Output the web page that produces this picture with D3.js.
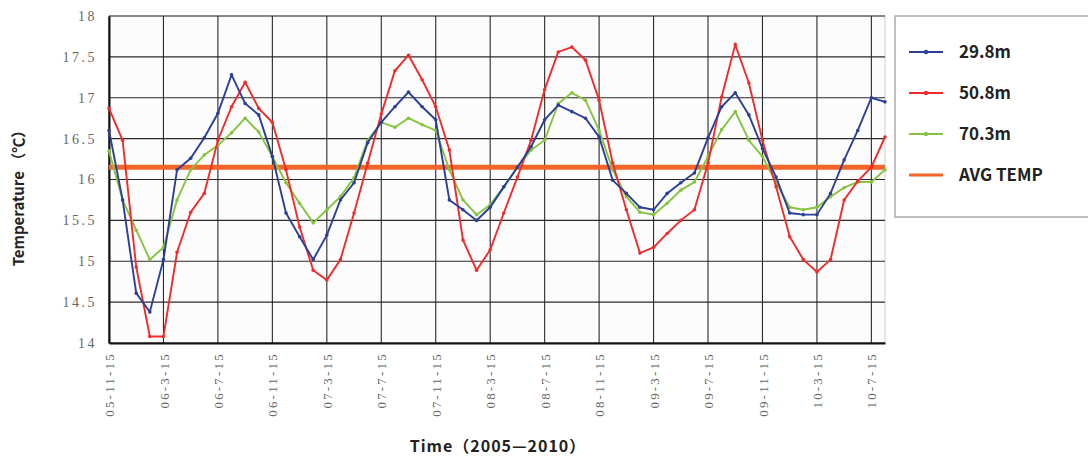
<!DOCTYPE html>
<html>
<head>
<meta charset="utf-8">
<script src="https://cdn.jsdelivr.net/npm/d3@7"></script>
<style>
  body { margin: 0; background: #fff; }
  svg { display: block; }
</style>
</head>
<body>
<script>
// monthly readings, Nov 2005 .. Aug 2010 (index 0 = 05-11-15)
var tickLabels = ["05-11-15", "06-3-15", "06-7-15", "06-11-15", "07-3-15", "07-7-15", "07-11-15",
    "08-3-15", "08-7-15", "08-11-15", "09-3-15", "09-7-15", "09-11-15", "10-3-15", "10-7-15"];
var yTicks = [14, 14.5, 15, 15.5, 16, 16.5, 17, 17.5, 18];

var temp298 = [16.6, 15.75, 14.61, 14.38, 15.02, 16.12, 16.26, 16.51, 16.81, 17.28, 16.93, 16.79,
    16.28, 15.59, 15.3, 15.02, 15.32, 15.75, 15.96, 16.45, 16.7, 16.89, 17.07, 16.89,
    16.73, 15.75, 15.63, 15.5, 15.66, 15.91, 16.15, 16.4, 16.73, 16.91, 16.83, 16.75,
    16.52, 15.99, 15.83, 15.66, 15.63, 15.83, 15.96, 16.08, 16.51, 16.89, 17.06, 16.79,
    16.38, 16.03, 15.59, 15.57, 15.57, 15.83, 16.24, 16.6, 17.0, 16.95];
var temp508 = [16.87, 16.48, 14.93, 14.08, 14.08, 15.11, 15.6, 15.83, 16.48, 16.89, 17.19, 16.87,
    16.7, 16.12, 15.42, 14.89, 14.77, 15.02, 15.59, 16.2, 16.8, 17.33, 17.52, 17.22,
    16.89, 16.36, 15.26, 14.89, 15.14, 15.59, 16.03, 16.48, 17.1, 17.56, 17.62, 17.46,
    16.97, 16.2, 15.63, 15.1, 15.17, 15.34, 15.5, 15.63, 16.2, 17.01, 17.65, 17.18,
    16.48, 15.91, 15.3, 15.02, 14.87, 15.02, 15.75, 15.98, 16.15, 16.52];
var temp703 = [16.35, 15.75, 15.38, 15.02, 15.17, 15.75, 16.12, 16.3, 16.42, 16.57, 16.75, 16.58,
    16.28, 15.96, 15.71, 15.47, 15.63, 15.79, 16.02, 16.48, 16.7, 16.64, 16.75, 16.67,
    16.6, 16.12, 15.75, 15.57, 15.69, 15.91, 16.15, 16.36, 16.48, 16.93, 17.06, 16.97,
    16.6, 16.12, 15.79, 15.6, 15.57, 15.71, 15.87, 15.97, 16.28, 16.61, 16.83, 16.48,
    16.28, 15.96, 15.66, 15.63, 15.66, 15.79, 15.9, 15.97, 15.97, 16.12];
var avgTemp = 16.15;

var series = [
    {name: "29.8m", values: temp298, color: "#2b3f96"},
    {name: "50.8m", values: temp508, color: "#ef2c2c"},
    {name: "70.3m", values: temp703, color: "#86c440"}
];

var width = 1088, height = 460;
var margin = {top: 16, left: 109, right: 203, bottom: 117};

var svg = d3.select("body").append("svg")
    .attr("width", width)
    .attr("height", height);

var x = d3.scaleLinear()
    .domain([0, temp298.length - 1])
    .range([margin.left, width - margin.right]);

var y = d3.scaleLinear()
    .domain([14, 18])
    .range([height - margin.bottom, margin.top]);

// plot background
svg.append("rect")
    .attr("x", margin.left).attr("y", margin.top)
    .attr("width", x.range()[1] - margin.left)
    .attr("height", y(14) - margin.top)
    .attr("fill", "#fcfcfc")
    .attr("stroke", "#d0d0d0");

// grid
svg.append("g")
    .selectAll("line")
    .data(yTicks)
    .join("line")
    .attr("x1", margin.left).attr("x2", x.range()[1])
    .attr("y1", d => y(d)).attr("y2", d => y(d))
    .attr("stroke", "#2a2a2a").attr("stroke-width", 1.1);

svg.append("g")
    .selectAll("line")
    .data(tickLabels)
    .join("line")
    .attr("x1", (d, i) => x(i * 4)).attr("x2", (d, i) => x(i * 4))
    .attr("y1", margin.top).attr("y2", y(14))
    .attr("stroke", "#2a2a2a").attr("stroke-width", 1.1);

// axes
var yAxis = d3.axisLeft(y).tickValues(yTicks).tickSize(0).tickPadding(12)
    .tickFormat(d => d % 1 === 0 ? d : d3.format(".1f")(d));
svg.append("g")
    .attr("transform", `translate(${margin.left},0)`)
    .call(yAxis)
    .call(g => g.select(".domain").attr("stroke", "#111").attr("stroke-width", 2))
    .call(g => g.selectAll("text")
        .attr("fill", "#666")
        .style("font-family", "'Liberation Serif', serif")
        .style("font-size", "14px")
        .style("letter-spacing", "2.5px"));

var xAxis = d3.axisBottom(x).tickValues(d3.range(0, tickLabels.length * 4, 4))
    .tickSize(0).tickFormat((d, i) => tickLabels[i]);
svg.append("g")
    .attr("transform", `translate(0,${y(14)})`)
    .call(xAxis)
    .call(g => g.select(".domain").attr("stroke", "#111").attr("stroke-width", 2))
    .call(g => g.selectAll("text")
        .attr("fill", "#666")
        .attr("transform", "rotate(-90)")
        .attr("text-anchor", "end")
        .attr("x", -9)
        .attr("y", 0)
        .attr("dy", "0.35em")
        .style("font-family", "'Liberation Serif', serif")
        .style("font-size", "13px")
        .style("letter-spacing", "2.2px"));

// average line
svg.append("line")
    .attr("x1", margin.left).attr("x2", x.range()[1])
    .attr("y1", y(avgTemp)).attr("y2", y(avgTemp))
    .attr("stroke", "#f4652a").attr("stroke-width", 5);

// series
var line = d3.line()
    .x((d, i) => x(i))
    .y(d => y(d));

var lines = svg.append("g");
series.slice().reverse().forEach(function(s) {
    lines.append("path")
        .datum(s.values)
        .attr("fill", "none")
        .attr("stroke", s.color)
        .attr("stroke-width", 1.9)
        .attr("d", line);
    lines.append("g")
        .selectAll("circle")
        .data(s.values)
        .join("circle")
        .attr("cx", (d, i) => x(i))
        .attr("cy", d => y(d))
        .attr("r", 1.8)
        .attr("fill", s.color);
});

// axis titles
svg.append("text")
    .attr("transform", `translate(24,${(margin.top + y(14)) / 2 + 15}) rotate(-90)`)
    .attr("text-anchor", "middle")
    .style("font-family", "'Noto Sans CJK SC', 'Noto Sans', sans-serif")
    .style("font-weight", "bold")
    .style("font-size", "15px")
    .attr("fill", "#222")
    .text("Temperature （℃）");

svg.append("text")
    .attr("x", 498).attr("y", 452)
    .attr("text-anchor", "middle")
    .style("font-family", "'Noto Sans CJK SC', 'Noto Sans', sans-serif")
    .style("font-weight", "bold")
    .style("font-size", "16px")
    .style("letter-spacing", "1px")
    .attr("fill", "#222")
    .text("Time（2005—2010）");

// legend
var legendItems = series.map(s => ({name: s.name, color: s.color, dot: true}))
    .concat([{name: "AVG TEMP", color: "#f4652a", dot: false}]);

var legend = svg.append("g").attr("transform", "translate(895,16)");
legend.append("rect")
    .attr("width", 200).attr("height", 201)
    .attr("fill", "#fff")
    .attr("stroke", "#aaa").attr("stroke-width", 1.5);

var item = legend.selectAll("g.item")
    .data(legendItems)
    .join("g")
    .attr("class", "item")
    .attr("transform", (d, i) => `translate(0,${36 + i * 41})`);

item.append("line")
    .attr("x1", 14).attr("x2", 48)
    .attr("stroke", d => d.color)
    .attr("stroke-width", d => d.dot ? 2 : 3);
item.filter(d => d.dot).append("circle")
    .attr("cx", 31).attr("r", 2.2)
    .attr("fill", d => d.color);
item.append("text")
    .attr("x", 64).attr("dy", "0.35em")
    .style("font-family", "'Noto Sans CJK SC', 'Noto Sans', sans-serif")
    .style("font-weight", "bold")
    .style("font-size", "17px")
    .attr("fill", "#222")
    .text(d => d.name);
</script>
</body>
</html>
